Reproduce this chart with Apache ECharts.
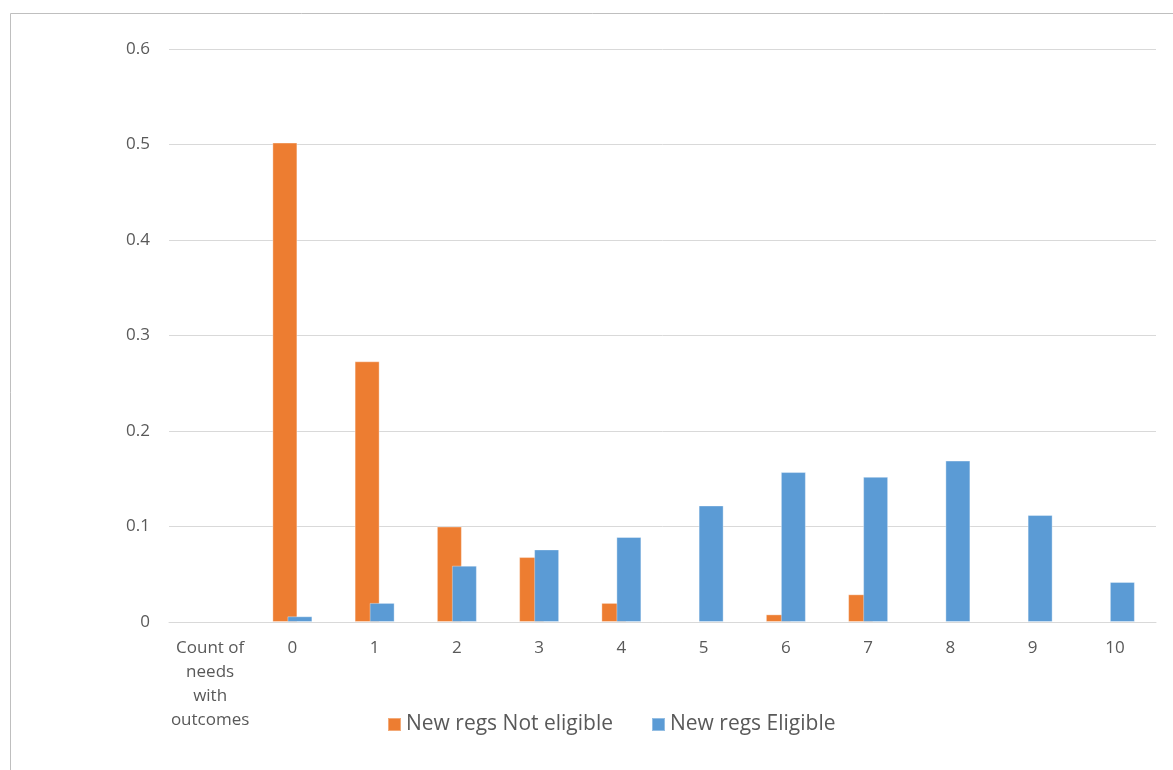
<!DOCTYPE html>
<html>
<head>
<meta charset="utf-8">
<script src="https://cdn.jsdelivr.net/npm/echarts@6/dist/echarts.min.js"></script>
<style>html,body{margin:0;padding:0;background:#fff;}#c{width:1173px;height:770px;}</style>
</head>
<body>
<div id="c"></div>
<script>
const categories = ['Count of needs with outcomes', '0', '1', '2', '3', '4', '5', '6', '7', '8', '9', '10'];
const notEligible = [null, 0.502, 0.273, 0.100, 0.068, 0.020, null, 0.008, 0.029, null, null, null];
const eligible = [null, 0.006, 0.020, 0.059, 0.076, 0.089, 0.122, 0.157, 0.152, 0.169, 0.112, 0.042];
const seriesNames = ['New regs Not eligible', 'New regs Eligible'];
const yTicks = { min: 0, max: 0.6, interval: 0.1 };

const FONT = '"Open Sans", "Liberation Sans", sans-serif';
const TXT = '#595959';
const chart = echarts.init(document.getElementById('c'), null, { renderer: 'canvas' });
chart.setOption({
  animation: false,
  backgroundColor: '#fff',
  textStyle: { fontFamily: FONT },
  graphic: [{
    type: 'rect', left: 8, top: 11, silent: true,
    shape: { width: 1200, height: 800 },
    style: { fill: 'none', stroke: '#BFBFBF', lineWidth: 1 }
  }],
  grid: { left: 169, right: 17, top: 49, bottom: 148, containLabel: false },
  legend: {
    left: 387, top: 714, padding: 0,
    itemWidth: 13, itemHeight: 13, itemGap: 38,
    icon: 'rect',
    textStyle: { color: TXT, fontSize: 21, fontFamily: FONT },
    data: seriesNames
  },
  xAxis: {
    type: 'category',
    data: categories,
    axisLine: { lineStyle: { color: '#D9D9D9', width: 1 } },
    axisTick: { show: false },
    axisLabel: {
      color: TXT, fontSize: 17, fontFamily: FONT, margin: 14, lineHeight: 24, interval: 0,
      formatter: v => v === categories[0] ? 'Count of\nneeds\nwith\noutcomes' : v
    }
  },
  yAxis: {
    type: 'value',
    min: yTicks.min, max: yTicks.max, interval: yTicks.interval,
    axisLine: { show: false },
    axisTick: { show: false },
    splitLine: { lineStyle: { color: '#D9D9D9', width: 1 } },
    axisLabel: { color: TXT, fontSize: 17, fontFamily: FONT, margin: 19, formatter: v => +v.toFixed(1) + '' }
  },
  series: [
    { name: seriesNames[0], type: 'bar', data: notEligible, barWidth: 25, barGap: '-40%',
      itemStyle: { color: '#ED7D31', borderColor: 'rgba(255,255,255,0.35)', borderWidth: 1 } },
    { name: seriesNames[1], type: 'bar', data: eligible, barWidth: 25, barGap: '-40%',
      itemStyle: { color: '#5B9BD5', borderColor: 'rgba(255,255,255,0.35)', borderWidth: 1 } }
  ]
});
</script>
</body>
</html>
